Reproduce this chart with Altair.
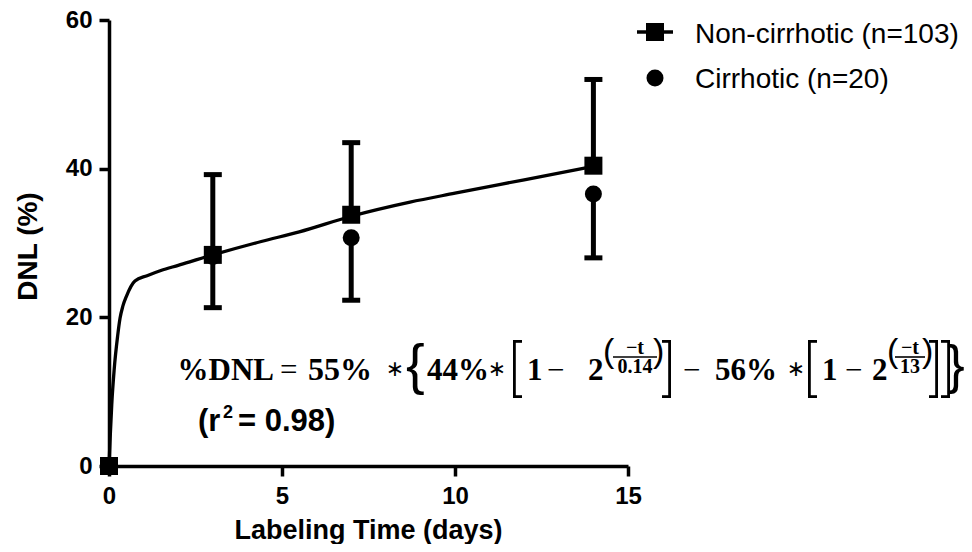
import altair as alt
import pandas as pd

# ---------------- data ----------------
days = [0, 3, 7, 14]
noncirr_mean = [0, 28.4, 33.8, 40.4]
noncirr_upper = [0, 39.2, 43.5, 52.0]
cirr_mean = [0, 28.2, 30.7, 36.6]
cirr_lower = [0, 21.3, 22.3, 28.0]

fit_t = [0, 0.04, 0.08, 0.15, 0.25, 0.32, 0.4, 0.5, 0.75, 1.1, 1.5, 2, 3, 4.4, 5.5, 7, 8.7, 10, 12, 14]
fit_y = [0, 4.4, 8.3, 13.0, 17.5, 19.9, 21.5, 22.8, 24.9, 25.6, 26.3, 27.0, 28.4, 30.2, 31.5, 33.6, 35.5, 36.7, 38.5, 40.3]

series_names = ["Non-cirrhotic (n=103)", "Cirrhotic (n=20)"]
x_ticks = [0, 5, 10, 15]
y_ticks = [0, 20, 40, 60]
x_title = "Labeling Time (days)"
y_title = "DNL (%)"

# ---------------- layout ----------------
W, H = 519, 446
OX, OY = 109, 20  # absolute page position of plot origin

obs = pd.DataFrame({"t": days, "nc": noncirr_mean, "nc_hi": noncirr_upper,
                    "c": cirr_mean, "c_lo": cirr_lower})
bars = obs[obs["t"] > 0]
fit = pd.DataFrame({"t": fit_t, "y": fit_y})
one = pd.DataFrame({"k": [0]})

xs = alt.Scale(domain=[0, 15], nice=False, zero=False)
ys = alt.Scale(domain=[0, 60], nice=False)
x_axis = alt.Axis(values=x_ticks, title=x_title, grid=False, labelFlush=False,
                  labelFont="Liberation Sans", labelFontWeight=700, labelFontSize=24, labelPadding=8,
                  titleFontSize=27,
                  titleX=259, titleY=72, titleBaseline="alphabetic", titleAlign="center")
y_axis = alt.Axis(values=y_ticks, title=y_title, grid=False, labelFlush=False,
                  labelFont="Liberation Sans", labelFontWeight=700, labelFontSize=24, labelPadding=7,
                  titleX=-73, titleY=226, titleBaseline="alphabetic", titleAlign="center", titleAngle=270)


def X(f):
    return alt.X(f, type="quantitative", scale=xs, axis=x_axis, title=x_title)


def Y(f):
    return alt.Y(f, type="quantitative", scale=ys, axis=y_axis, title=y_title)


line = alt.Chart(fit).mark_line(color="black", strokeWidth=3.3, interpolate="monotone").encode(
    x=X("t"), y=Y("y"))

nc_rule = alt.Chart(bars).mark_rule(color="black", strokeWidth=5).encode(
    x=X("t"), y=Y("nc"), y2="nc_hi")
c_rule = alt.Chart(bars).mark_rule(color="black", strokeWidth=5).encode(
    x=X("t"), y=Y("c_lo"), y2="c")
nc_cap = alt.Chart(bars).mark_tick(color="black", orient="horizontal", size=18, thickness=5, opacity=1).encode(
    x=X("t"), y=Y("nc_hi"))
c_cap = alt.Chart(bars).mark_tick(color="black", orient="horizontal", size=18, thickness=5, opacity=1).encode(
    x=X("t"), y=Y("c_lo"))

circles = alt.Chart(obs).mark_point(shape="circle", filled=True, color="black", size=289, opacity=1).encode(
    x=X("t"), y=Y("c"))
squares = alt.Chart(obs).mark_point(shape="square", filled=True, color="black", size=324, opacity=1).encode(
    x=X("t"), y=Y("nc"))


def txt(s, x, y, size, font="Liberation Serif", weight="bold", align="left", baseline="alphabetic"):
    return alt.Chart(one).mark_text(text=s, font=font, fontSize=size, fontWeight=weight,
                                    align=align, baseline=baseline, color="black").encode(
        x=alt.value(x - OX), y=alt.value(y - OY))


def hbar(x1, x2, y, w=1.6):
    return alt.Chart(one).mark_rule(color="black", strokeWidth=w).encode(
        x=alt.value(x1 - OX), x2=alt.value(x2 - OX), y=alt.value(y - OY))


def vbar(x, y1, y2, w=2.8):
    return alt.Chart(one).mark_rule(color="black", strokeWidth=w).encode(
        x=alt.value(x - OX), y=alt.value(y1 - OY), y2=alt.value(y2 - OY))


def bracket(x0, x1, opening=True, top=340, bottom=398, w=2.8):
    xv = x0 + w / 2 if opening else x1 - w / 2
    return [vbar(xv, top, bottom, w), hbar(x0, x1, top + w / 2, w), hbar(x0, x1, bottom - w / 2, w)]


ann = []
# equation main row
BL = 380
FS = 31
ann += [txt("%DNL", 274, BL, FS, align="right"), txt("=", 280, BL, FS, weight="normal"),
        txt("55%", 308, BL, FS + 1),
        txt("\u2217", 395, 369, 22, font="DejaVu Sans", weight="normal", align="center", baseline="middle"),
        txt("44%", 427, BL, FS),
        txt("\u2217", 497, 369, 22, font="DejaVu Sans", weight="normal", align="center", baseline="middle"),
        txt("1", 527, BL, FS), txt("\u2212", 547, BL, FS, weight="normal"), txt("2", 588, BL, FS),
        txt("\u2212", 683, BL, FS, weight="normal"), txt("56%", 715, BL, FS),
        txt("\u2217", 796, 369, 22, font="DejaVu Sans", weight="normal", align="center", baseline="middle"),
        txt("1", 822, BL, FS), txt("\u2212", 845, BL, FS, weight="normal"), txt("2", 872, BL, FS)]
# big brackets and braces
ann += bracket(513, 522, True) + bracket(662, 671, False) + bracket(808, 817, True)
ann += bracket(929, 938, False) + bracket(941, 950, False)
ann += [txt("{", 406, 383, 56, font="Liberation Sans", weight="normal"),
        txt("}", 947, 383, 53, font="Liberation Sans", weight="normal")]
# exponents
ann += [txt("(", 603, 362, 34, font="Liberation Sans", weight="normal"),
        txt("\u2212t", 635, 354, 20, align="center"), hbar(613, 657, 357),
        txt("0.14", 635, 373, 20, align="center"),
        txt(")", 653, 362, 34, font="Liberation Sans", weight="normal"),
        txt("(", 887, 362, 34, font="Liberation Sans", weight="normal"),
        txt("\u2212t", 910, 354, 20, align="center"), hbar(895, 925, 357),
        txt("13", 910, 373, 20, align="center"),
        txt(")", 922, 362, 34, font="Liberation Sans", weight="normal")]
# r^2
ann += [txt("(r", 198, 431, 31, font="Liberation Sans"),
        txt("2", 223, 418, 18, font="Liberation Sans"),
        txt("= 0.98)", 238, 431, 31, font="Liberation Sans")]

# legend
ann += [hbar(637, 673, 32, w=3.5),
        alt.Chart(one).mark_point(shape="square", filled=True, color="black", size=324, opacity=1).encode(
            x=alt.value(655 - OX), y=alt.value(32 - OY)),
        alt.Chart(one).mark_point(shape="circle", filled=True, color="black", size=289, opacity=1).encode(
            x=alt.value(655 - OX), y=alt.value(78 - OY)),
        txt(series_names[0], 695, 43, 28, font="Liberation Sans", weight="normal"),
        txt(series_names[1], 695, 88, 28, font="Liberation Sans", weight="normal")]

chart = alt.layer(line, nc_rule, c_rule, nc_cap, c_cap, circles, squares, *ann).properties(
    width=W, height=H,
    autosize=alt.AutoSizeParams(type="none"),
    padding={"left": 101, "top": 12, "right": 956 - 101 - W, "bottom": 536 - 12 - H},
    background="white",
).configure_view(stroke=None).configure_axis(
    domainColor="black", domainWidth=3.5, tickColor="black", tickWidth=3.5, tickSize=10,
    labelFont="Liberation Sans", labelFontWeight=700, labelFontSize=24, labelColor="black",
    titleFont="Liberation Sans", titleFontWeight="bold", titleFontSize=28, titleColor="black",
)

chart.save("out.html", embed_options={"renderer": "svg", "actions": False})
